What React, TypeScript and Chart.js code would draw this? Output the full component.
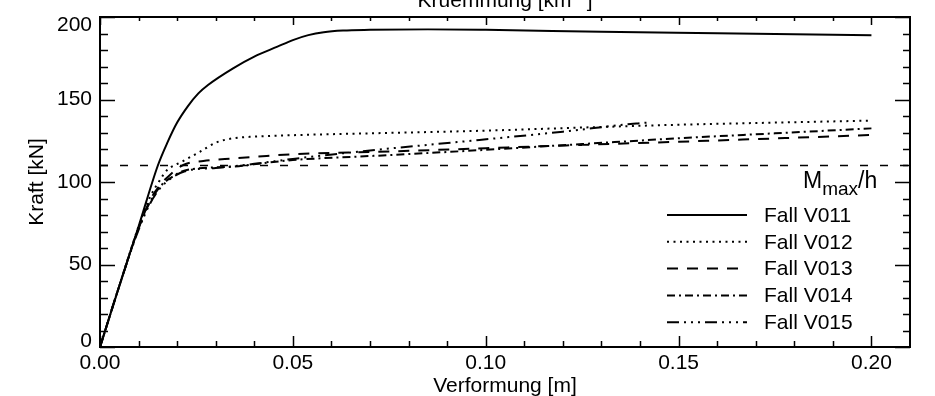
import React, { useEffect, useRef } from 'react';
import { Chart, registerables } from 'chart.js';

Chart.register(...registerables);

// ---------- data (Verformung [m], Kraft [kN]) ----------
const fallV011: number[][] = [
  [0, 0], [0.005, 37], [0.010, 73], [0.015, 110], [0.0175, 124], [0.020, 136],
  [0.0228, 146], [0.0255, 153.7], [0.028, 158.8], [0.0345, 168.9], [0.040, 176],
  [0.046, 182], [0.050, 186], [0.054, 189], [0.058, 190.8], [0.063, 191.8], [0.070, 192.2],
  [0.085, 192.5], [0.10, 192.2], [0.13, 191.1], [0.16, 190.2], [0.20, 189],
];
const fallV012: number[][] = [
  [0, 0], [0.005, 37], [0.010, 73], [0.013, 91], [0.0155, 101], [0.0173, 107],
  [0.0212, 112.3], [0.026, 118.4], [0.030, 123.8], [0.0345, 126.5], [0.040, 127.5],
  [0.052, 128.5], [0.070, 129.5], [0.098, 131], [0.125, 133], [0.15, 134.7],
  [0.175, 136], [0.20, 137.2],
];
const fallV013: number[][] = [
  [0, 0], [0.005, 37], [0.010, 72], [0.013, 89], [0.0155, 98], [0.018, 104],
  [0.0216, 110.3], [0.0268, 112.7], [0.0345, 114.3], [0.0432, 115.8], [0.050, 116.8],
  [0.075, 118.5], [0.10, 120.5], [0.125, 122.5], [0.15, 124.4], [0.175, 126.4], [0.20, 128.5],
];
const fallV014: number[][] = [
  [0, 0], [0.005, 37], [0.010, 72], [0.013, 88], [0.0155, 97], [0.018, 102],
  [0.0225, 107.3], [0.0345, 109.3], [0.0432, 111.7], [0.050, 113.3], [0.075, 116.3],
  [0.10, 119.5], [0.125, 123], [0.15, 126.5], [0.175, 129.5], [0.20, 132.5],
];
const fallV015: number[][] = [
  [0, 0], [0.005, 37], [0.010, 71], [0.013, 87], [0.0155, 96], [0.018, 101.5],
  [0.022, 106.5], [0.030, 108.5], [0.040, 111], [0.050, 114], [0.067, 118.4],
  [0.0984, 125.5], [0.12, 130.5], [0.139, 135.5], [0.142, 136],
];
const seriesLabels = ['Fall V011', 'Fall V012', 'Fall V013', 'Fall V014', 'Fall V015'];
const mMaxH = 110; // kN
const xRange = [0, 0.21];
const yRange = [0, 200];
const xTickValues = [0, 0.05, 0.1, 0.15, 0.2];
const yTickValues = [0, 50, 100, 150, 200];
const xMinorStep = 0.01;
const yMinorStep = 10;

// ---------- styles ----------
const FONT = "'Liberation Sans', Arial, Helvetica, sans-serif";
const FS = 21;
const dashes: number[][] = [[], [2, 4.5], [11, 9], [8, 4, 2, 4], [12, 5, 2, 5, 2, 5, 2, 5]];

const framePlugin = {
  id: 'frameTicks',
  afterDraw(chart: any) {
    const { ctx, chartArea } = chart;
    const { left, right, top, bottom } = chartArea;
    const xs = chart.scales.x;
    const ys = chart.scales.y;
    ctx.save();
    ctx.strokeStyle = '#000';
    ctx.lineWidth = 2;
    ctx.setLineDash([]);
    ctx.strokeRect(left, top, right - left, bottom - top);
    ctx.lineWidth = 1.5;
    ctx.beginPath();
    const nx = Math.round((xRange[1] - xRange[0]) / xMinorStep);
    for (let i = 0; i <= nx; i++) {
      const v = xRange[0] + i * xMinorStep;
      if (v > xRange[1] - 1e-9) break;
      const p = Math.round(xs.getPixelForValue(v)) + 0.5;
      const major = xTickValues.some((t) => Math.abs(t - v) < 1e-9);
      ctx.moveTo(p, bottom);
      ctx.lineTo(p, bottom - (major ? 11 : 6));
      ctx.moveTo(p, top);
      ctx.lineTo(p, top + (major ? 8 : 4));
    }
    const ny = Math.round((yRange[1] - yRange[0]) / yMinorStep);
    for (let i = 0; i <= ny; i++) {
      const v = yRange[0] + i * yMinorStep;
      const p = Math.round(ys.getPixelForValue(v)) + 0.5;
      const major = yTickValues.includes(v);
      ctx.moveTo(left, p);
      ctx.lineTo(left + (major ? 15 : 8), p);
      ctx.moveTo(right, p);
      ctx.lineTo(right - (major ? 15 : 7), p);
    }
    ctx.stroke();

    // y tick labels
    ctx.fillStyle = '#000';
    ctx.font = `${FS}px ${FONT}`;
    ctx.textAlign = 'right';
    ctx.textBaseline = 'middle';
    yTickValues.forEach((v) => {
      let p = ys.getPixelForValue(v);
      p = Math.min(Math.max(p, top + 8), bottom - 6);
      ctx.fillText(String(v), left - 8, p);
    });

    // top axis title (partly cut off)
    const a = 'Kruemmung [km';
    const sup = '-1';
    const b = ']';
    ctx.textAlign = 'left';
    ctx.textBaseline = 'alphabetic';
    ctx.font = `${FS}px ${FONT}`;
    const wa = ctx.measureText(a).width;
    const wb = ctx.measureText(b).width;
    ctx.font = `${FS * 0.7}px ${FONT}`;
    const ws = ctx.measureText(sup).width;
    const total = wa + ws + wb + 2;
    const x0 = (left + right) / 2 - total / 2;
    ctx.font = `${FS}px ${FONT}`;
    ctx.fillText(a, x0, 6.5);
    ctx.font = `${FS * 0.7}px ${FONT}`;
    ctx.fillText(sup, x0 + wa + 1, -2);
    ctx.font = `${FS}px ${FONT}`;
    ctx.fillText(b, x0 + wa + ws + 2, 6.5);

    // M_max/h label
    const yl = ys.getPixelForValue(mMaxH) + 22.5;
    let mx = right - 107;
    ctx.font = `23px ${FONT}`;
    ctx.fillText('M', mx, yl);
    mx += ctx.measureText('M').width;
    ctx.font = `19px ${FONT}`;
    ctx.fillText('max', mx, yl + 7);
    mx += ctx.measureText('max').width;
    ctx.font = `23px ${FONT}`;
    ctx.fillText('/h', mx, yl);

    // legend
    ctx.font = `${FS}px ${FONT}`;
    ctx.textBaseline = 'middle';
    chart.data.datasets.forEach((ds: any, i: number) => {
      if (!ds.label || !ds.label.startsWith('Fall')) return;
      const y = 215 + i * 26.8;
      ctx.beginPath();
      ctx.lineWidth = ds.borderWidth;
      ctx.setLineDash(ds.borderDash || []);
      ctx.moveTo(right - 243, y);
      ctx.lineTo(right - 163, y);
      ctx.stroke();
      ctx.setLineDash([]);
      ctx.fillText(ds.label, right - 146, y + 1);
    });
    ctx.restore();
  },
};

export default function App() {
  const ref = useRef<HTMLCanvasElement | null>(null);
  useEffect(() => {
    if (!ref.current) return;
    const series = [fallV011, fallV012, fallV013, fallV014, fallV015];
    const datasets: any[] = series.map((s, i) => ({
      label: seriesLabels[i],
      data: s.map(([x, y]) => ({ x, y })),
      borderColor: '#000',
      borderWidth: 2,
      borderDash: dashes[i],
      pointRadius: 0,
      fill: false,
      cubicInterpolationMode: 'monotone',
    }));
    datasets.push({
      label: 'Mmax/h',
      data: [{ x: xRange[0], y: mMaxH }, { x: xRange[1], y: mMaxH }],
      borderColor: '#000',
      borderWidth: 1.3,
      borderDash: [8, 12],
      pointRadius: 0,
      fill: false,
    });
    const chart = new Chart(ref.current, {
      type: 'line',
      data: { datasets },
      options: {
        animation: false,
        responsive: false,
        devicePixelRatio: 1,
        layout: { padding: { left: 0, right: 25, top: 17, bottom: 0 } },
        plugins: { legend: { display: false }, tooltip: { enabled: false } },
        scales: {
          x: {
            type: 'linear',
            min: xRange[0],
            max: xRange[1],
            grid: { display: false, drawTicks: false },
            border: { display: false },
            afterBuildTicks: (s: any) => { s.ticks = xTickValues.map((v) => ({ value: v })); },
            afterFit: (s: any) => { s.height = 49; },
            ticks: {
              color: '#000',
              font: { family: FONT, size: FS },
              padding: 4,
              maxRotation: 0,
              autoSkip: false,
              callback: (v: any) => Number(v).toFixed(2),
            },
            title: {
              display: true,
              text: 'Verformung [m]',
              color: '#000',
              font: { family: FONT, size: FS },
              padding: { top: 0, bottom: -3 },
            },
          },
          y: {
            type: 'linear',
            min: yRange[0],
            max: yRange[1],
            grid: { display: false, drawTicks: false },
            border: { display: false },
            afterFit: (s: any) => { s.width = 100; },
            ticks: { display: false },
            title: {
              display: true,
              text: 'Kraft [kN]',
              color: '#000',
              font: { family: FONT, size: FS },
              padding: { top: 25, bottom: 0 },
            },
          },
        },
      } as any,
      plugins: [framePlugin],
    });
    return () => chart.destroy();
  }, []);
  return (
    <div style={{ position: 'fixed', left: 0, top: 0, width: 935, height: 396, background: '#fff' }}>
      <canvas ref={ref} width={935} height={396} style={{ width: 935, height: 396, display: 'block' }} />
    </div>
  );
}
